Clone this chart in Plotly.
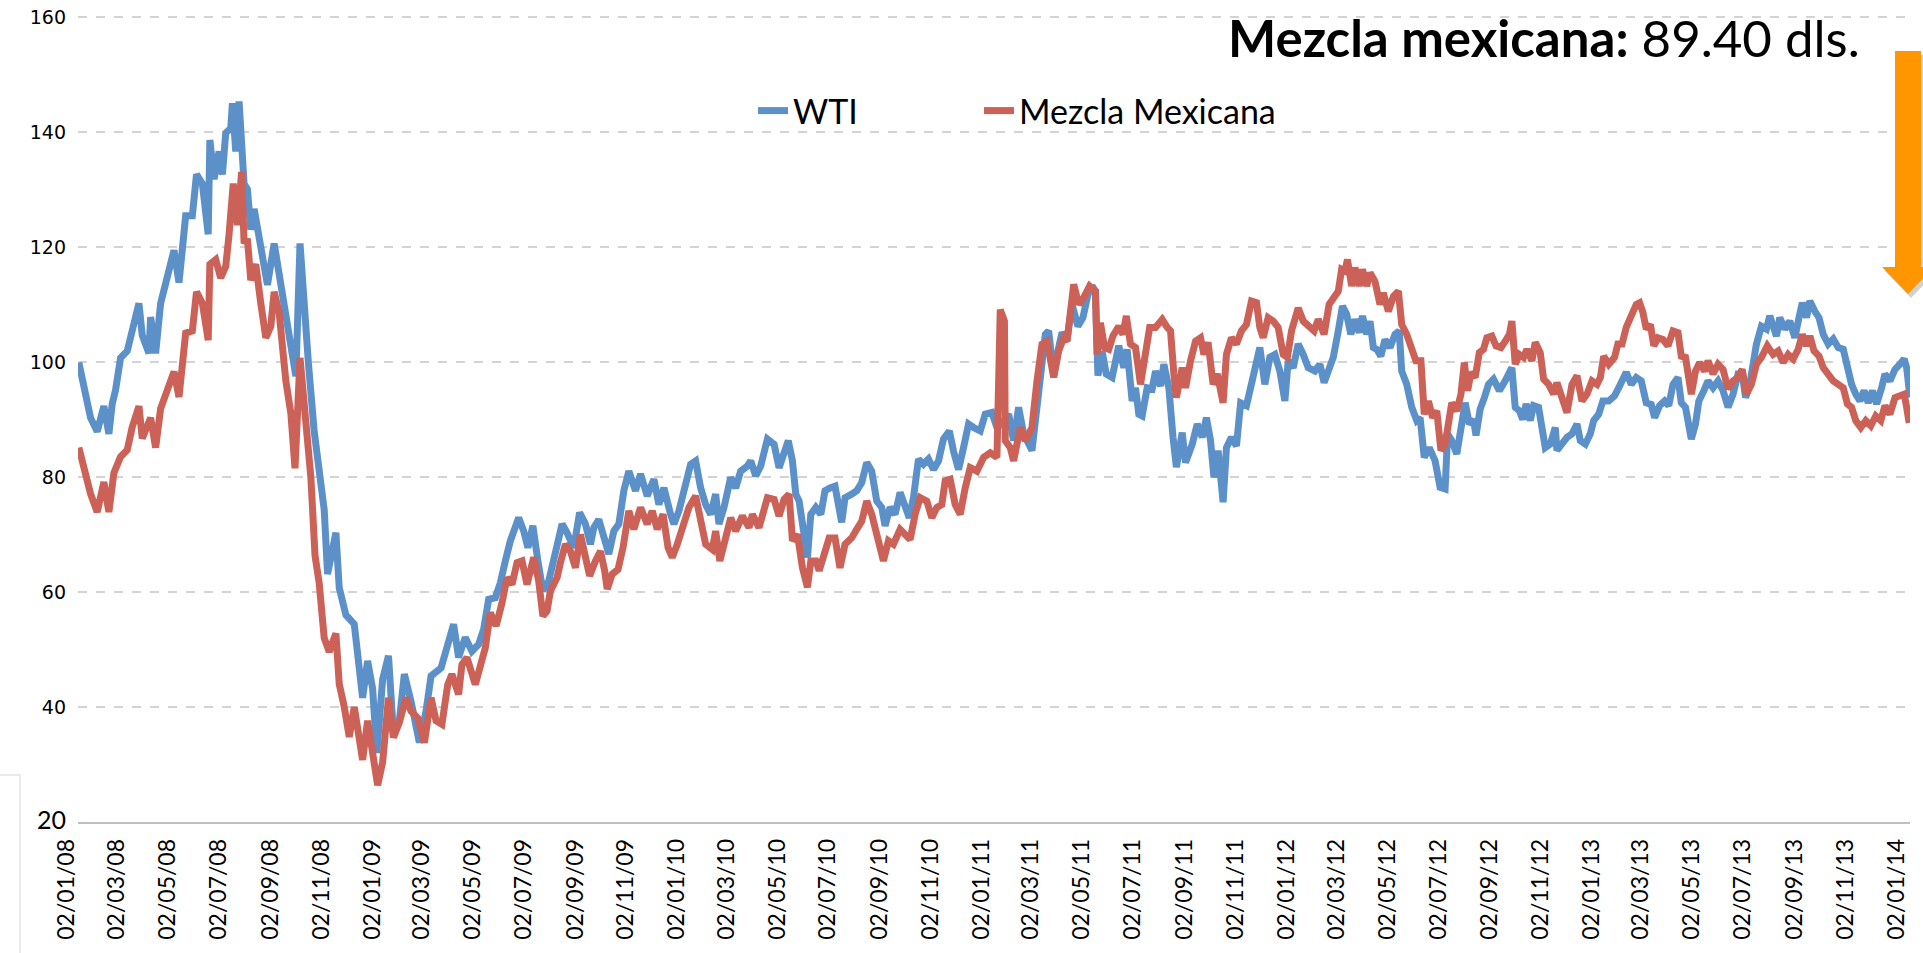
import pandas as pd
import plotly.graph_objects as go

# ---------------- data ----------------
BASE_DATE = "2008-01-02"

wti_days = [0, 8, 14, 22, 30, 36, 40, 44, 50, 58, 64, 72, 76, 84, 86, 92, 98, 106, 114, 120,
            128, 136, 141, 148, 155, 157, 162, 168, 172, 176, 182, 184, 188, 192, 198, 202, 206,
            210, 218, 226, 234, 240, 250, 260, 265, 270, 275, 282, 288, 294, 298, 308, 312, 320,
            330, 334, 340, 346, 352, 357, 364, 371, 377, 384, 390, 398, 408, 416, 422, 434, 442,
            449, 455, 463, 471, 479, 485, 491, 499, 505, 511, 517, 527, 533, 538, 544, 550, 556,
            563, 571, 579, 585, 593, 600, 607, 613, 617, 623, 629, 635, 641, 647, 653, 659, 667,
            673, 681, 689, 695, 701, 709, 713, 719, 727, 733, 739, 745, 751, 757, 763, 767, 773,
            781, 787, 793, 801, 805, 811, 817, 825, 833, 839, 845, 850, 855, 859, 863, 867, 873,
            877, 883, 889, 894, 900, 906, 914, 918, 926, 932, 938, 944, 950, 956, 962, 966, 972,
            978, 984, 990, 995, 1000, 1006, 1012, 1018, 1024, 1030, 1036, 1043, 1048, 1054, 1060,
            1066, 1072, 1080, 1086, 1094, 1100, 1104, 1114, 1120, 1126, 1132, 1142, 1148, 1152,
            1158, 1162, 1168, 1174, 1178, 1184, 1190, 1197, 1203, 1209, 1214, 1218, 1221, 1226,
            1231, 1238, 1246, 1252, 1256, 1262, 1266, 1270, 1274, 1280, 1286, 1290, 1296, 1300,
            1306, 1311, 1315, 1322, 1326, 1334, 1340, 1346, 1351, 1356, 1360, 1365, 1371, 1375,
            1381, 1387, 1392, 1399, 1405, 1409, 1415, 1421, 1427, 1433, 1439, 1445, 1449, 1455,
            1461, 1467, 1473, 1481, 1487, 1492, 1497, 1503, 1509, 1514, 1519, 1524, 1529, 1534,
            1538, 1543, 1547, 1551, 1555, 1560, 1565, 1571, 1577, 1582, 1585, 1591, 1597, 1603,
            1607, 1612, 1618, 1625, 1631, 1637, 1640, 1645, 1651, 1656, 1661, 1666, 1671, 1674,
            1679, 1684, 1689, 1695, 1702, 1709, 1713, 1717, 1721, 1726, 1730, 1734, 1739, 1743,
            1749, 1753, 1757, 1763, 1769, 1771, 1777, 1783, 1789, 1795, 1799, 1805, 1811, 1815,
            1821, 1826, 1833, 1840, 1846, 1854, 1860, 1866, 1872, 1878, 1884, 1888, 1894, 1900,
            1905, 1910, 1916, 1920, 1925, 1929, 1932, 1937, 1941, 1947, 1952, 1958, 1964, 1970,
            1976, 1982, 1988, 1993, 1997, 2002, 2006, 2010, 2016, 2022, 2026, 2031, 2034, 2038,
            2044, 2050, 2056, 2061, 2065, 2070, 2074, 2080, 2085, 2090, 2096, 2102, 2108, 2114,
            2119, 2124, 2129, 2134, 2139, 2144, 2149, 2154, 2160, 2164, 2170, 2176, 2182, 2187,
            2190, 2194]
wti_values = [99.9, 93.5, 90.3, 87.9, 92.3, 87.5, 92.7, 95.1, 100.7, 101.9, 105.4, 110.2, 104.6,
              101.5, 107.8, 101.5, 110.2, 115.0, 119.4, 113.8, 125.4, 125.4, 132.6, 131.0, 122.2,
              138.6, 131.8, 136.6, 132.6, 139.8, 140.6, 145.0, 136.6, 145.3, 131.0, 130.0, 123.0,
              126.6, 119.0, 113.4, 120.6, 115.0, 106.2, 97.5, 120.6, 108.6, 99.9, 87.9, 79.9, 74.3,
              63.1, 70.3, 60.7, 56.0, 54.4, 49.6, 41.6, 48.0, 43.2, 32.0, 44.8, 48.9, 35.2, 37.6,
              45.7, 41.0, 33.8, 39.3, 45.4, 46.8, 50.9, 54.4, 48.6, 52.1, 49.7, 50.9, 53.5, 58.7,
              59.0, 61.6, 65.4, 68.9, 72.9, 70.6, 67.7, 71.5, 65.4, 60.2, 61.9, 67.1, 71.8, 70.3,
              67.7, 73.8, 71.8, 68.3, 71.2, 72.6, 69.4, 66.6, 70.6, 71.8, 77.6, 81.0, 77.6, 80.5,
              76.7, 79.6, 75.2, 78.1, 73.5, 71.8, 74.1, 79.3, 82.2, 82.8, 78.1, 75.2, 73.5, 77.0,
              71.8, 74.7, 79.9, 78.1, 81.0, 81.9, 82.8, 80.2, 81.9, 86.6, 85.7, 81.6, 84.5, 86.3,
              82.8, 77.0, 75.8, 71.2, 66.0, 73.5, 74.7, 73.5, 77.6, 78.1, 78.4, 72.1, 76.4, 77.0,
              77.6, 79.0, 82.5, 81.0, 75.8, 74.7, 71.5, 74.7, 73.5, 77.3, 74.7, 72.9, 76.4, 83.1,
              82.2, 83.1, 81.3, 82.8, 86.6, 88.0, 84.5, 81.3, 85.1, 89.2, 88.6, 88.0, 90.9, 91.2,
              88.6, 89.0, 90.9, 86.3, 92.1, 87.5, 84.6, 92.1, 97.3, 104.8, 105.4, 97.6, 102.5,
              105.1, 103.9, 110.0, 106.2, 107.7, 111.7, 113.2, 112.3, 97.6, 101.9, 97.9, 97.3,
              102.8, 99.0, 102.2, 93.2, 95.5, 90.9, 90.6, 95.5, 95.3, 98.4, 95.8, 99.6, 95.5, 86.9,
              81.7, 87.7, 82.5, 85.7, 89.2, 86.9, 90.3, 86.3, 79.9, 84.6, 75.6, 85.1, 86.9, 85.4,
              92.9, 92.4, 96.1, 99.0, 102.5, 96.1, 100.8, 101.3, 98.4, 93.2, 100.2, 99.0, 103.1,
              101.3, 99.0, 98.4, 99.6, 96.4, 98.4, 100.8, 105.4, 109.7, 108.3, 104.8, 107.4, 105.1,
              108.0, 104.8, 107.1, 102.5, 102.2, 101.0, 103.9, 102.5, 104.8, 105.4, 98.4, 96.1,
              92.1, 89.8, 90.3, 83.4, 85.1, 82.8, 78.2, 77.9, 87.5, 86.3, 84.0, 88.0, 92.9, 89.2,
              90.0, 87.2, 91.8, 93.8, 96.1, 97.0, 95.0, 96.7, 97.6, 99.0, 92.1, 91.5, 90.0, 92.7,
              89.8, 92.4, 92.1, 88.6, 85.1, 85.7, 88.6, 84.6, 86.0, 86.9, 87.5, 89.2, 86.3, 85.7,
              87.5, 89.8, 90.9, 93.2, 93.2, 94.1, 95.8, 98.2, 96.1, 97.3, 96.7, 92.9, 92.6, 90.3,
              92.4, 93.2, 92.4, 96.1, 97.3, 92.9, 92.1, 88.6, 86.6, 89.2, 93.2, 95.0, 96.7, 95.5,
              96.7, 95.0, 92.1, 94.4, 97.9, 97.9, 93.8, 96.1, 100.2, 103.1, 106.2, 105.7, 108.0,
              106.2, 104.5, 107.7, 105.7, 107.1, 104.2, 107.7, 110.3, 107.7, 110.6, 108.8, 107.7,
              104.8, 103.1, 104.0, 102.5, 102.2, 99.0, 96.1, 94.4, 93.2, 95.0, 92.9, 95.0, 92.7,
              95.5, 97.9, 96.7, 98.7, 99.6, 100.5, 99.0, 93.8]

mme_days = [0, 8, 14, 22, 30, 36, 42, 50, 58, 64, 72, 76, 86, 92, 98, 106, 114, 120, 128, 136,
            141, 148, 155, 157, 164, 170, 176, 180, 185, 190, 195, 198, 202, 206, 212, 218, 224,
            230, 234, 240, 248, 254, 259, 265, 272, 278, 283, 288, 294, 300, 308, 312, 318, 324,
            330, 340, 346, 352, 358, 364, 371, 377, 384, 392, 398, 406, 414, 422, 428, 435, 442,
            447, 455, 459, 465, 475, 481, 487, 493, 500, 507, 513, 519, 525, 531, 537, 545, 551,
            556, 561, 565, 573, 577, 583, 589, 595, 601, 607, 612, 619, 625, 630, 633, 639, 646,
            652, 659, 665, 673, 681, 687, 693, 700, 706, 711, 717, 723, 731, 739, 745, 751, 759,
            763, 768, 773, 781, 787, 795, 803, 807, 815, 825, 833, 839, 845, 851, 855, 861, 867,
            873, 877, 883, 887, 893, 899, 906, 912, 918, 926, 932, 938, 944, 950, 956, 964, 970,
            976, 984, 990, 996, 1002, 1008, 1016, 1022, 1028, 1034, 1038, 1044, 1050, 1056, 1062,
            1068, 1076, 1084, 1092, 1100, 1104, 1109, 1110, 1116, 1120, 1128, 1134, 1142, 1148,
            1154, 1160, 1168, 1174, 1180, 1184, 1188, 1192, 1198, 1204, 1211, 1218, 1220, 1224,
            1229, 1234, 1239, 1246, 1251, 1255, 1260, 1266, 1272, 1278, 1283, 1290, 1298, 1304,
            1308, 1312, 1315, 1322, 1326, 1332, 1338, 1344, 1348, 1353, 1359, 1364, 1371, 1375,
            1381, 1387, 1393, 1399, 1405, 1411, 1415, 1419, 1425, 1431, 1437, 1443, 1448, 1453,
            1461, 1467, 1473, 1480, 1485, 1492, 1498, 1504, 1509, 1513, 1517, 1520, 1525, 1529,
            1534, 1538, 1543, 1547, 1553, 1559, 1563, 1569, 1575, 1581, 1585, 1591, 1597, 1602,
            1608, 1612, 1617, 1622, 1627, 1632, 1637, 1641, 1645, 1651, 1656, 1660, 1664, 1668,
            1673, 1678, 1683, 1687, 1693, 1698, 1704, 1709, 1714, 1717, 1721, 1726, 1731, 1735,
            1741, 1745, 1751, 1755, 1761, 1767, 1771, 1777, 1783, 1789, 1795, 1801, 1807, 1813,
            1819, 1823, 1827, 1833, 1840, 1844, 1849, 1854, 1860, 1866, 1870, 1874, 1878, 1883,
            1887, 1892, 1898, 1904, 1910, 1916, 1920, 1925, 1932, 1937, 1942, 1948, 1952, 1958,
            1964, 1970, 1976, 1982, 1988, 1993, 1998, 2004, 2010, 2016, 2023, 2030, 2036, 2042,
            2048, 2054, 2060, 2065, 2070, 2074, 2079, 2085, 2090, 2096, 2102, 2108, 2114, 2119,
            2124, 2129, 2135, 2141, 2147, 2153, 2159, 2164, 2170, 2176, 2182, 2187, 2190, 2193]
mme_values = [85.1, 80.7, 77.1, 73.9, 79.1, 73.9, 80.7, 83.5, 84.7, 88.7, 92.3, 86.7, 90.3, 85.1,
              91.9, 95.1, 98.3, 93.9, 105.0, 105.4, 112.2, 110.2, 103.8, 117.0, 117.8, 114.6,
              116.6, 122.2, 131.0, 123.8, 133.0, 120.6, 121.4, 114.2, 117.0, 110.2, 104.2, 106.2,
              112.2, 108.6, 96.7, 91.1, 81.5, 100.7, 90.3, 79.9, 66.3, 61.5, 52.0, 49.6, 52.8,
              44.0, 40.0, 34.8, 40.0, 30.8, 37.6, 31.2, 26.4, 30.4, 41.6, 34.7, 37.3, 41.6, 39.3,
              38.1, 33.8, 41.6, 37.6, 37.0, 43.9, 45.7, 42.2, 47.4, 48.6, 43.9, 47.4, 50.3, 56.4,
              54.1, 58.1, 62.5, 61.3, 65.1, 65.4, 61.3, 66.0, 61.9, 55.8, 56.7, 60.2, 62.5, 65.1,
              68.3, 67.1, 64.2, 70.0, 66.0, 62.8, 65.4, 67.1, 63.7, 60.5, 63.1, 63.9, 67.7, 74.1,
              70.9, 74.7, 71.8, 74.1, 70.9, 73.5, 67.7, 66.0, 68.3, 71.2, 74.7, 76.7, 72.3, 68.3,
              67.4, 70.6, 65.4, 68.3, 72.9, 70.6, 73.2, 71.2, 73.5, 71.2, 76.4, 76.1, 73.2, 76.1,
              77.0, 68.9, 70.0, 64.2, 60.8, 65.4, 65.4, 63.7, 66.6, 69.4, 69.4, 64.2, 68.3, 69.4,
              70.9, 72.3, 75.8, 73.5, 70.0, 65.4, 68.9, 68.3, 70.9, 70.0, 69.1, 73.5, 76.4, 75.8,
              72.9, 74.7, 75.2, 79.3, 79.6, 75.2, 73.5, 78.1, 81.6, 81.0, 83.4, 84.2, 83.4, 109.1,
              107.1, 86.3, 85.1, 82.8, 88.6, 86.3, 88.6, 96.7, 103.1, 103.6, 97.3, 101.9, 104.2,
              103.6, 110.0, 113.5, 110.0, 111.2, 113.2, 112.3, 101.3, 106.8, 102.5, 102.2, 104.5,
              106.2, 104.8, 108.0, 103.1, 102.5, 96.1, 101.3, 106.0, 106.0, 107.4, 106.0, 105.4,
              97.9, 93.8, 99.0, 95.5, 100.2, 103.6, 104.2, 101.3, 103.4, 96.1, 97.9, 92.9, 101.3,
              104.2, 103.1, 105.4, 106.5, 110.6, 110.3, 106.0, 104.2, 107.7, 107.1, 106.0, 101.3,
              100.8, 105.4, 109.4, 107.1, 106.2, 105.4, 107.4, 104.8, 110.0, 111.4, 112.3, 116.1,
              115.8, 117.8, 113.2, 116.4, 113.2, 116.1, 113.2, 115.5, 114.0, 110.0, 112.0, 108.8,
              111.4, 112.3, 106.5, 104.8, 102.2, 100.2, 100.2, 90.9, 93.2, 90.3, 91.5, 84.6, 85.7,
              90.1, 92.9, 91.5, 94.4, 99.9, 95.0, 98.2, 97.3, 101.6, 102.2, 104.2, 104.5, 102.8,
              102.5, 103.6, 104.8, 107.1, 99.6, 101.3, 100.8, 102.2, 100.2, 103.4, 101.6, 97.0,
              96.1, 94.4, 96.4, 93.8, 91.2, 96.1, 97.6, 93.2, 94.4, 96.7, 96.1, 97.3, 101.0, 99.6,
              100.8, 103.1, 103.1, 106.0, 108.3, 110.0, 110.3, 108.6, 105.7, 106.5, 102.8, 104.2,
              103.9, 102.8, 105.4, 105.1, 101.0, 100.8, 94.4, 98.4, 99.9, 98.4, 100.2, 97.9, 99.6,
              98.7, 95.3, 96.7, 97.3, 98.7, 94.4, 96.1, 99.6, 100.8, 102.8, 101.3, 101.9, 99.9,
              101.3, 100.5, 102.2, 104.8, 102.8, 104.5, 101.9, 101.0, 99.0, 97.9, 96.7, 96.1, 95.5,
              92.7, 92.1, 89.8, 88.6, 89.8, 88.9, 90.6, 89.8, 92.4, 90.9, 93.8, 94.1, 94.4, 92.1,
              89.4]

series_names = ["WTI", "Mezcla Mexicana"]
y_ticks = [20, 40, 60, 80, 100, 120, 140, 160]
y_tick_labels = ["<span style=\"font-family:Lato;font-size:25px\">20</span>",
                 "40", "60", "80", "100", "120", "140", "160"]
x_tick_dates = ["2008-01-02", "2008-03-02", "2008-05-02", "2008-07-02", "2008-09-02", "2008-11-02",
                "2009-01-02", "2009-03-02", "2009-05-02", "2009-07-02", "2009-09-02", "2009-11-02",
                "2010-01-02", "2010-03-02", "2010-05-02", "2010-07-02", "2010-09-02", "2010-11-02",
                "2011-01-02", "2011-03-02", "2011-05-02", "2011-07-02", "2011-09-02", "2011-11-02",
                "2012-01-02", "2012-03-02", "2012-05-02", "2012-07-02", "2012-09-02", "2012-11-02",
                "2013-01-02", "2013-03-02", "2013-05-02", "2013-07-02", "2013-09-02", "2013-11-02",
                "2014-01-02"]
title_bold = "Mezcla mexicana:"
title_rest = " 89.40 dls."

# ---------------- figure ----------------
base = pd.Timestamp(BASE_DATE)
wti_dates = base + pd.to_timedelta(wti_days, unit="D")
mme_dates = base + pd.to_timedelta(mme_days, unit="D")

W, H = 1923, 953
Y_MIN, Y_MAX = 20, 160.5
UNIT = 805 / 140             # screen px per dollar (20 -> 822, 160 -> 17)
# plot area in screen pixels: left 78, right 1910, top 17 - extra, bottom 822
L = 78
T = round(17 - (Y_MAX - 160) * UNIT)
R, B = W - 1910, H - 822
PW, PH = W - L - R, H - T - B


def px(x):  # screen pixel x -> paper
    return (x - L) / PW


def py(y):  # screen pixel y -> paper
    return (H - B - y) / PH


FONT = "Lato"
BLUE = "#5B90C9"
RED = "#CC6157"

fig = go.Figure()
fig.add_trace(go.Scatter(x=wti_dates, y=wti_values, name=series_names[0], mode="lines",
                         line=dict(color=BLUE, width=7), legend="legend"))
fig.add_trace(go.Scatter(x=mme_dates, y=mme_values, name=series_names[1], mode="lines",
                         line=dict(color=RED, width=7), legend="legend2"))

# orange arrow (with soft shadow)
arrow = [(1895, 51), (1921, 51), (1921, 267), (1934, 267), (1908, 294), (1882, 267), (1895, 267)]


def path(pts, dx=0, dy=0):
    return "M " + " L ".join(f"{px(x + dx):.5f},{py(y + dy):.5f}" for x, y in pts) + " Z"


shapes = [
    dict(type="path", xref="paper", yref="paper", path=path(arrow, 3, 4),
         fillcolor="rgba(0,0,0,0.18)", line=dict(width=0), layer="above"),
    dict(type="path", xref="paper", yref="paper", path=path(arrow),
         fillcolor="#FF9600", line=dict(width=0), layer="above"),
    dict(type="rect", xref="paper", yref="paper", x0=px(-5), x1=px(20), y0=py(960), y1=py(775),
         line=dict(color="#E3E3E3", width=1.5), fillcolor="rgba(0,0,0,0)", layer="below"),
]

legend_common = dict(orientation="h", yanchor="middle", xanchor="left",
                     font=dict(size=34, family=FONT), bgcolor="rgba(0,0,0,0)")

base_end = base + pd.Timedelta(days=2194)
fig.update_layout(
    width=W, height=H,
    margin=dict(l=L, r=R, t=T, b=B, autoexpand=False),
    paper_bgcolor="white", plot_bgcolor="white",
    font=dict(family=FONT, color="black"),
    showlegend=True,
    legend=dict(x=px(753), y=py(111), **legend_common),
    legend2=dict(x=px(979), y=py(111), **legend_common),
    shapes=shapes,
    annotations=[dict(text=f"<b>{title_bold}</b>{title_rest}", xref="paper", yref="paper",
                      x=px(1862), y=py(37), xanchor="right", yanchor="middle", showarrow=False,
                      font=dict(size=51, family=FONT, color="black"))],
    xaxis=dict(type="date", range=[base - pd.Timedelta(days=1), base_end],
               tickvals=x_tick_dates, tickformat="%d/%m/%y", tickangle=-90,
               tickfont=dict(size=23, family=FONT), showgrid=False, ticks="",
               showline=True, linecolor="#BFBFBF", linewidth=1.5, zeroline=False,
               ticklabelstandoff=6, ticklabelshift=-12),
    yaxis=dict(range=[Y_MIN, Y_MAX], tickvals=y_ticks, ticktext=y_tick_labels,
               tickfont=dict(size=19, family="DejaVu Sans"), ticklabeloverflow="allow",
               showgrid=True, gridcolor="#D3D3D3", griddash="dash", gridwidth=1.5,
               zeroline=False, showline=False, ticks="", ticklabelstandoff=11),
)

fig.write_html("out.html", config={"displayModeBar": False},
               post_script="document.body.style.margin='0';document.body.style.overflow='hidden';")
